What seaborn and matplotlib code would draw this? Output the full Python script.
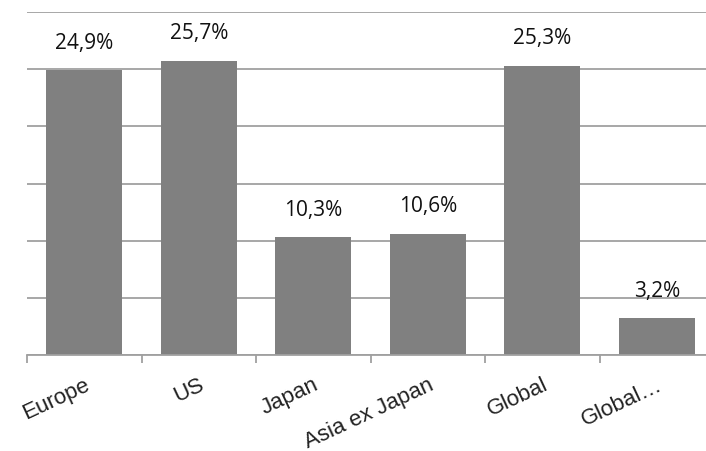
import matplotlib
matplotlib.use("Agg")
import matplotlib.pyplot as plt
import seaborn as sns
import pandas as pd

categories = ["Europe", "US", "Japan", "Asia ex Japan", "Global", "Global\u2026"]
values = [24.9, 25.7, 10.3, 10.6, 25.3, 3.2]
value_labels = ["24,9%", "25,7%", "10,3%", "10,6%", "25,3%", "3,2%"]

df = pd.DataFrame({"region": categories, "value": values})

sns.set_style("white")
fig = plt.figure(figsize=(7.06, 4.51), dpi=100)
ax = fig.add_axes([27 / 706, 1 - 355 / 451, 687 / 706, 343 / 451])

sns.barplot(data=df, x="region", y="value", color="#808080", saturation=1,
            width=0.66, ax=ax, zorder=3, edgecolor="none", linewidth=0)

ax.set_ylim(0, 30)
ax.set_xlim(-0.5, 5.5)
ax.set_yticks(range(0, 31, 5))
ax.set_yticklabels([])
ax.tick_params(axis="y", length=0)
ax.yaxis.grid(True, color="#a0a0a0", linewidth=1.3, zorder=0)
ax.set_axisbelow(True)

for side in ["left", "right", "top"]:
    ax.spines[side].set_visible(False)
ax.spines["bottom"].set_color("#a0a0a0")
ax.spines["bottom"].set_linewidth(1.3)
ax.spines["bottom"].set_zorder(4)

# boundary ticks between categories
ax.set_xticks([i - 0.5 for i in range(len(categories) + 1)], minor=True)
ax.tick_params(axis="x", which="minor", bottom=True, length=6, width=1.3,
               color="#a0a0a0", direction="out")
ax.tick_params(axis="x", which="major", bottom=False, length=0, pad=14)
ax.set_xticks(range(len(categories)))
ax.set_xticklabels(categories, rotation=25, ha="right", rotation_mode="anchor",
                   fontsize=16, color="#222222", family="Liberation Sans")
ax.set_xlabel("")
ax.set_ylabel("")

for i, (v, t) in enumerate(zip(values, value_labels)):
    ax.annotate(t, (i, v), xytext=(0, 12), textcoords="offset points",
                ha="center", va="bottom", fontsize=15, color="#111111",
                family="Open Sans")

fig.savefig("out.png", dpi=100)
